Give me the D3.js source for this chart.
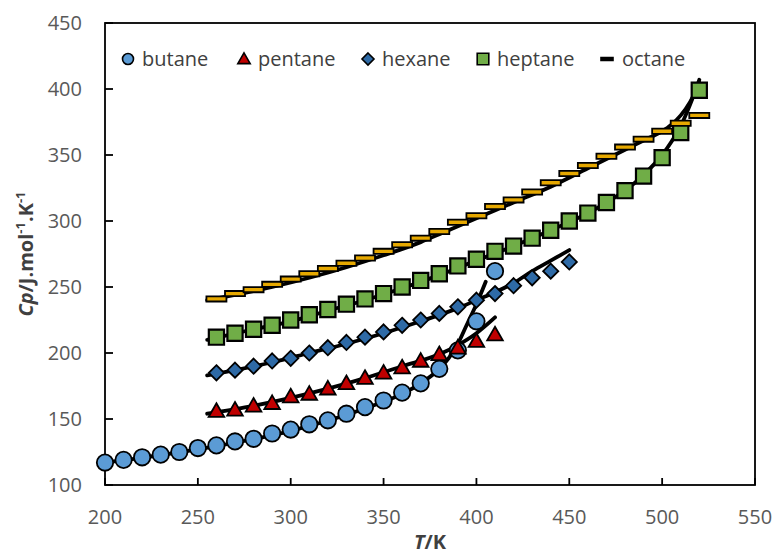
<!DOCTYPE html>
<html lang="en">
<head>
<meta charset="UTF-8">
<title>Cp vs T</title>
<script src="https://d3js.org/d3.v7.min.js"></script>
<style>
    body { margin: 0; background: #fff; }
    svg { display: block; font-family: "Open Sans", "Liberation Sans", sans-serif; }
    .tick-label { font-size: 20px; fill: #595959; }
    .legend-label { font-size: 20px; fill: #404040; }
    .axis-title { font-size: 20px; font-weight: bold; fill: #404040; }
</style>
</head>
<body>
<svg id="chart" width="775" height="555"></svg>
<script>
// measured points
const butaneT  = [200, 210, 220, 230, 240, 250, 260, 270, 280, 290, 300, 310, 320, 330, 340, 350, 360, 370, 380, 390, 400, 410];
const butaneCp = [117, 119, 121, 123, 125, 128, 130, 133, 135, 139, 142, 146, 149, 154, 159, 164, 170, 177, 188, 202, 224, 262];

const pentaneT  = [260, 270, 280, 290, 300, 310, 320, 330, 340, 350, 360, 370, 380, 390, 400, 410];
const pentaneCp = [156, 157, 160, 162, 167, 169, 173, 177, 181, 185, 189, 194, 199, 204, 209, 214];

const hexaneT  = [260, 270, 280, 290, 300, 310, 320, 330, 340, 350, 360, 370, 380, 390, 400, 410, 420, 430, 440, 450];
const hexaneCp = [185, 187, 190, 194, 196, 200, 204, 208, 212, 216, 221, 225, 230, 235, 240, 245, 251, 257, 262, 269];

const heptaneT  = [260, 270, 280, 290, 300, 310, 320, 330, 340, 350, 360, 370, 380, 390, 400, 410, 420, 430, 440, 450, 460, 470, 480, 490, 500, 510, 520];
const heptaneCp = [212, 215, 218, 221, 225, 229, 233, 237, 241, 245, 250, 255, 260, 266, 271, 277, 281, 287, 293, 300, 306, 314, 323, 334, 348, 367, 399];

const octaneT  = [260, 270, 280, 290, 300, 310, 320, 330, 340, 350, 360, 370, 380, 390, 400, 410, 420, 430, 440, 450, 460, 470, 480, 490, 500, 510, 520];
const octaneCp = [241, 245, 248, 252, 256, 260, 264, 268, 272, 277, 282, 287, 292, 299, 304, 311, 316, 322, 329, 336, 342, 349, 356, 362, 368, 374, 380];

// model curves (black lines)
const butaneFitT  = [200, 250, 300, 340, 360, 370, 380, 385, 390, 395, 400, 405];
const butaneFitCp = [117, 127, 141, 158, 169, 177, 188, 196, 207, 222, 237, 254];

const pentaneFitT  = [255, 280, 300, 320, 340, 360, 380, 390, 400, 410];
const pentaneFitCp = [154, 160, 166, 173, 181, 190, 199, 206, 215, 227];

const hexaneFitT  = [255, 270, 290, 310, 330, 350, 370, 390, 400, 410, 420, 430, 440, 450];
const hexaneFitCp = [183, 187, 193, 200, 207, 215, 224, 234, 240, 246, 253, 262, 270, 278];

const heptaneFitT  = [255, 280, 300, 320, 340, 360, 380, 400, 420, 440, 460, 470, 480, 490, 500, 505, 510, 515, 520];
const heptaneFitCp = [210, 218, 224, 232, 240, 249, 259, 270, 281, 293, 306, 314, 323, 335, 350, 360, 372, 388, 407];

const octaneFitT  = [255, 270, 290, 310, 330, 350, 370, 380, 400, 420, 440, 460, 480, 490, 500, 505, 510, 515, 520];
const octaneFitCp = [240, 244, 250, 257, 265, 274, 284, 290, 302, 314, 326, 340, 354, 361, 368, 373, 380, 390, 405];

const seriesNames = ["butane", "pentane", "hexane", "heptane", "octane"];
const xTicks = [200, 250, 300, 350, 400, 450, 500, 550];
const yTicks = [100, 150, 200, 250, 300, 350, 400, 450];

const series = [
    {name: "butane",  t: butaneT,  cp: butaneCp,  ft: butaneFitT,  fcp: butaneFitCp,  shape: "circle",   fill: "#5b9bd5"},
    {name: "pentane", t: pentaneT, cp: pentaneCp, ft: pentaneFitT, fcp: pentaneFitCp, shape: "triangle", fill: "#c00000"},
    {name: "hexane",  t: hexaneT,  cp: hexaneCp,  ft: hexaneFitT,  fcp: hexaneFitCp,  shape: "diamond",  fill: "#2e6aa6"},
    {name: "heptane", t: heptaneT, cp: heptaneCp, ft: heptaneFitT, fcp: heptaneFitCp, shape: "square",   fill: "#70ad47"},
    {name: "octane",  t: octaneT,  cp: octaneCp,  ft: octaneFitT,  fcp: octaneFitCp,  shape: "dash",     fill: "#e6a800"}
];

const svg = d3.select("#chart");
const plot = {left: 105, right: 755, top: 23, bottom: 485};

const x = d3.scaleLinear().domain([200, 550]).range([plot.left, plot.right]);
const y = d3.scaleLinear().domain([100, 450]).range([plot.bottom, plot.top]);

// marker path, centred on 0,0
function markerPath(shape, s) {
    if (shape === "circle") {
        return `M${s},0A${s},${s} 0 1,1 ${-s},0A${s},${s} 0 1,1 ${s},0Z`;
    } else if (shape === "triangle") {
        return `M0,${-s}L${s},${s * 0.75}L${-s},${s * 0.75}Z`;
    } else if (shape === "diamond") {
        return `M0,${-s}L${s},0L0,${s}L${-s},0Z`;
    } else if (shape === "square") {
        return `M${-s},${-s}H${s}V${s}H${-s}Z`;
    } else {
        const h = s * 0.26;
        return `M${-s},${-h}H${s}V${h}H${-s}Z`;
    }
}
const markerSize = {circle: 8.2, triangle: 7.8, diamond: 7.6, square: 7.6, dash: 10};

// plot box
svg.append("rect")
    .attr("x", plot.left).attr("y", plot.top)
    .attr("width", plot.right - plot.left).attr("height", plot.bottom - plot.top)
    .attr("fill", "none").attr("stroke", "#000").attr("stroke-width", 1.8);

// ticks (inside)
svg.selectAll(".ytick").data(yTicks).enter().append("line")
    .attr("x1", plot.left).attr("x2", plot.left + 8)
    .attr("y1", d => y(d)).attr("y2", d => y(d))
    .attr("stroke", "#000").attr("stroke-width", 1.8);
svg.selectAll(".xtick").data(xTicks).enter().append("line")
    .attr("x1", d => x(d)).attr("x2", d => x(d))
    .attr("y1", plot.bottom).attr("y2", plot.bottom - 7)
    .attr("stroke", "#000").attr("stroke-width", 1.8);

svg.selectAll(".ylab").data(yTicks).enter().append("text")
    .attr("class", "tick-label")
    .attr("x", 82).attr("y", d => y(d) + 7)
    .attr("text-anchor", "end")
    .text(d => d);
svg.selectAll(".xlab").data(xTicks).enter().append("text")
    .attr("class", "tick-label")
    .attr("x", d => x(d)).attr("y", 524)
    .attr("text-anchor", "middle")
    .text(d => d);

// axis titles
const xt = svg.append("text").attr("class", "axis-title")
    .attr("x", (plot.left + plot.right) / 2).attr("y", 549).attr("text-anchor", "middle");
xt.append("tspan").attr("font-style", "italic").text("T");
xt.append("tspan").text("/K");

const yt = svg.append("text").attr("class", "axis-title")
    .attr("transform", `translate(33,${(plot.top + plot.bottom) / 2}) rotate(-90)`)
    .attr("text-anchor", "middle");
yt.append("tspan").attr("font-style", "italic").text("Cp");
yt.append("tspan").text("/J.mol");
yt.append("tspan").attr("font-size", "13px").attr("dy", -8).text("-1");
yt.append("tspan").attr("dy", 8).text(".K");
yt.append("tspan").attr("font-size", "13px").attr("dy", -8).text("-1");

// model lines
const line = d3.line().curve(d3.curveMonotoneX);
series.forEach(s => {
    svg.append("path")
        .attr("d", line(s.ft.map((t, i) => [x(t), y(s.fcp[i])])))
        .attr("fill", "none")
        .attr("stroke", "#000")
        .attr("stroke-width", 3.8)
        .attr("stroke-linecap", "round");
});

// markers
series.forEach(s => {
    svg.append("g").selectAll("path")
        .data(s.t.map((t, i) => [t, s.cp[i]]))
        .enter().append("path")
        .attr("transform", d => `translate(${x(d[0])},${y(d[1])})`)
        .attr("d", markerPath(s.shape, markerSize[s.shape]))
        .attr("fill", s.fill)
        .attr("stroke", "#000")
        .attr("stroke-width", s.shape === "square" ? 2.2 : 1.8)
        .attr("stroke-linejoin", "miter");
});

// legend
const legendX = [128, 244, 368, 483, 607];
const legendSize = {circle: 5.5, triangle: 6.2, diamond: 6, square: 5.8, dash: 6};
series.forEach((s, i) => {
    const g = svg.append("g").attr("transform", `translate(${legendX[i]},59)`);
    g.append("path")
        .attr("d", markerPath(s.shape, legendSize[s.shape]))
        .attr("fill", s.shape === "dash" ? "#000" : s.fill)
        .attr("stroke", "#000")
        .attr("stroke-width", 1.6);
    g.append("text")
        .attr("class", "legend-label")
        .attr("x", s.shape === "dash" ? 15 : 14).attr("y", 7)
        .text(seriesNames[i]);
});
</script>
</body>
</html>
